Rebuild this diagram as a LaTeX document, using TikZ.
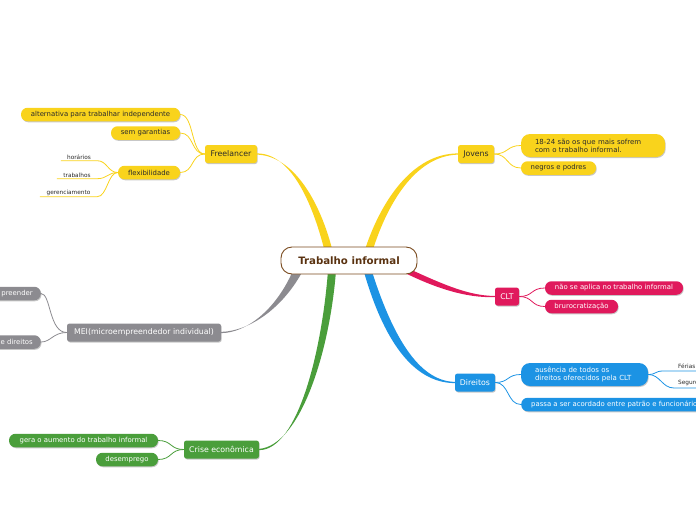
\documentclass[tikz,border=0pt]{standalone}
\usepackage{fontspec}
\setmainfont{DejaVu Sans}
\usetikzlibrary{shadows,calc}
\definecolor{cY}{HTML}{F9D31C}
\definecolor{cP}{HTML}{E0195C}
\definecolor{cB}{HTML}{1C93E4}
\definecolor{cG}{HTML}{8C8B90}
\definecolor{cV}{HTML}{4A9E3B}
\definecolor{cBr}{HTML}{7A4A1E}
\definecolor{cBt}{HTML}{5A3210}
\definecolor{cT}{HTML}{2B2B2B}
\tikzset{
  shad/.style={drop shadow={shadow xshift=0.7pt,shadow yshift=-1pt,opacity=0.22,fill=black}},
  mainbox/.style={shad,rounded corners=2.5pt,minimum height=18pt,inner xsep=4pt,inner ysep=1pt,
    font=\fontsize{7.8}{9}\selectfont},
  subbox/.style={shad,rounded corners=6.5pt,minimum height=13.5pt,inner xsep=8pt,inner ysep=1pt,
    font=\fontsize{6.9}{8}\selectfont},
  twobox/.style={shad,rounded corners=9pt,minimum height=23pt,inner xsep=14pt,inner ysep=1pt,
    align=left,font=\fontsize{7}{8.2}\selectfont},
  leaf/.style={inner sep=0pt,font=\fontsize{5.8}{6.5}\selectfont,text=cT},
  subline/.style={line width=0.8pt},
}
\begin{document}
\begin{tikzpicture}[x=1pt,y=-1pt]
\clip (0,0) rectangle (696,520);
\useasboundingbox (0,0) rectangle (696,520);

% ---------- nodes ----------
\node[mainbox,fill=cY,text=cT,minimum width=52] (fr) at (231,154) {Freelancer};
\node[subbox,fill=cY,text=cT,minimum width=159] (alt) at (100.5,114.5) {alternativa para trabalhar independente};
\node[subbox,fill=cY,text=cT,minimum width=69] (sem) at (145.5,133) {sem garantias};
\node[subbox,fill=cY,text=cT,minimum width=62] (flx) at (149,172.5) {flexibilidade};
\node[leaf,minimum width=36,minimum height=7] (hor) at (79,157) {horários};
\node[leaf,minimum width=40,minimum height=7] (trb) at (77,175) {trabalhos};
\node[leaf,minimum width=57,minimum height=7] (ger) at (68.5,193) {gerenciamento};

\node[mainbox,fill=cY,text=cT,minimum width=36] (jov) at (476,154) {Jovens};
\node[twobox,fill=cY,text=cT,text width=116] (idd) at (593,145.5) {18-24 são os que mais sofrem\\com o trabalho informal.};
\node[subbox,fill=cY,text=cT,minimum width=75] (neg) at (558.5,168) {negros e podres};

\node[mainbox,fill=cP,text=white,minimum width=24] (clt) at (507,296.5) {CLT};
\node[subbox,fill=cP,text=white,minimum width=138] (nao) at (614,288) {não se aplica no trabalho informal};
\node[subbox,fill=cP,text=white,minimum width=73] (bur) at (581.5,306.5) {brurocratização};

\node[mainbox,fill=cB,text=white,minimum width=40] (dir) at (475,382.5) {Direitos};
\node[twobox,fill=cB,text=white,text width=99] (aus) at (584.5,374.5) {ausência de todos os\\direitos oferecidos pela CLT};
\node[subbox,fill=cB,text=white,anchor=west,inner xsep=10pt] (pas) at (521,404.5) {passa a ser acordado entre patrão e funcionário};
\node[leaf,anchor=south west] (fer) at (678,368.5) {Férias};
\node[leaf,anchor=south west] (seg) at (678,385.5) {Seguro-desemprego};
\coordinate (fa) at (663,371);
\coordinate (fb) at (700,371);
\coordinate (sa) at (674,388);
\coordinate (sb) at (700,388);

\node[mainbox,fill=cG,text=white,minimum width=154] (mei) at (144,332.5) {MEI(microempreendedor individual)};
\node[subbox,fill=cG,text=white,anchor=east,text width=60,align=right] (emp) at (41,293.5) {preender};
\node[subbox,fill=cG,text=white,anchor=east,text width=60,align=right] (edi) at (41,342) {e direitos};

\node[mainbox,fill=cV,text=white,minimum width=75] (cri) at (221.5,449.5) {Crise econômica};
\node[subbox,fill=cV,text=white,minimum width=149] (ger2) at (83.5,440.5) {gera o aumento do trabalho informal};
\node[subbox,fill=cV,text=white,minimum width=62] (des) at (127,459.5) {desemprego};

% ---------- root ----------
\coordinate (rc) at (349,260.5);

% ---------- tapered main branches ----------
\fill[cY] ($(rc)+(-24,-8)$) .. controls (312,200) and (290,153.5) .. ($(fr.east)+(0,-0.6)$)
  -- ($(fr.east)+(0,0.6)$) .. controls (293,156) and (320,200) .. ($(rc)+(-16,-8)$) -- cycle;
\fill[cY] ($(rc)+(15,-8)$) .. controls (380,202) and (412,153.5) .. ($(jov.west)+(0,-0.6)$)
  -- ($(jov.west)+(0,0.6)$) .. controls (415,156) and (387,204) .. ($(rc)+(23,-8)$) -- cycle;
\fill[cP] ($(rc)+(55,6)$) .. controls (440,283) and (468,296) .. ($(clt.west)+(0,-0.6)$)
  -- ($(clt.west)+(0,0.6)$) .. controls (467,298) and (437,289) .. ($(rc)+(53,11)$) -- cycle;
\fill[cB] ($(rc)+(14,8)$) .. controls (383,340) and (413,383) .. ($(dir.west)+(0,0.6)$)
  -- ($(dir.west)+(0,-0.6)$) .. controls (418,381) and (392,335) .. ($(rc)+(22,8)$) -- cycle;
\fill[cG] ($(rc)+(-56,10)$) .. controls (276,310) and (246,333) .. ($(mei.east)+(0,0.6)$)
  -- ($(mei.east)+(0,-0.6)$) .. controls (250,331) and (283,308) .. ($(rc)+(-46,10)$) -- cycle;
\fill[cV] ($(rc)+(-21,10)$) .. controls (322,350) and (298,450) .. ($(cri.east)+(0,0.6)$)
  -- ($(cri.east)+(0,-0.6)$) .. controls (301,445) and (330,350) .. ($(rc)+(-13,10)$) -- cycle;

\node[draw=cBr,line width=0.9pt,fill=white,rounded corners=11pt,minimum width=136,minimum height=27,
  font=\fontsize{10.2}{12}\selectfont\bfseries,text=cBt] (root) at (rc) {Trabalho informal};

% ---------- sub connectors ----------
\begin{scope}[subline]
\draw[cY] (fr.west) .. controls +(-14,0) and +(14,0) .. (alt.east);
\draw[cY] (fr.west) .. controls +(-14,0) and +(14,0) .. (sem.east);
\draw[cY] (fr.west) .. controls +(-14,0) and +(14,0) .. (flx.east);
\draw[cY] (flx.west) .. controls +(-10,0) and +(10,0) .. (hor.south east) -- (hor.south west);
\draw[cY] (flx.west) .. controls +(-10,0) and +(10,0) .. (trb.south east) -- (trb.south west);
\draw[cY] (flx.west) .. controls +(-10,0) and +(10,0) .. (ger.south east) -- (ger.south west);
\draw[cY] (jov.east) .. controls +(14,0) and +(-14,0) .. (idd.west);
\draw[cY] (jov.east) .. controls +(14,0) and +(-14,0) .. (neg.west);
\draw[cP] (clt.east) .. controls +(14,0) and +(-14,0) .. (nao.west);
\draw[cP] (clt.east) .. controls +(14,0) and +(-14,0) .. (bur.west);
\draw[cB] (dir.east) .. controls +(14,0) and +(-14,0) .. (aus.west);
\draw[cB] (dir.east) .. controls +(14,0) and +(-14,0) .. (pas.west);
\draw[cB] (aus.east) .. controls +(8,0) and +(-8,0) .. (fa) -- (fb);
\draw[cB] (aus.east) .. controls +(12,0) and +(-12,0) .. (sa) -- (sb);
\draw[cG] (mei.west) .. controls +(-18,0) and +(10,0) .. (emp.east);
\draw[cG] (mei.west) .. controls +(-14,0) and +(10,0) .. (edi.east);
\draw[cV] (cri.west) .. controls +(-14,0) and +(14,0) .. (ger2.east);
\draw[cV] (cri.west) .. controls +(-14,0) and +(14,0) .. (des.east);
\end{scope}
\end{tikzpicture}
\end{document}
